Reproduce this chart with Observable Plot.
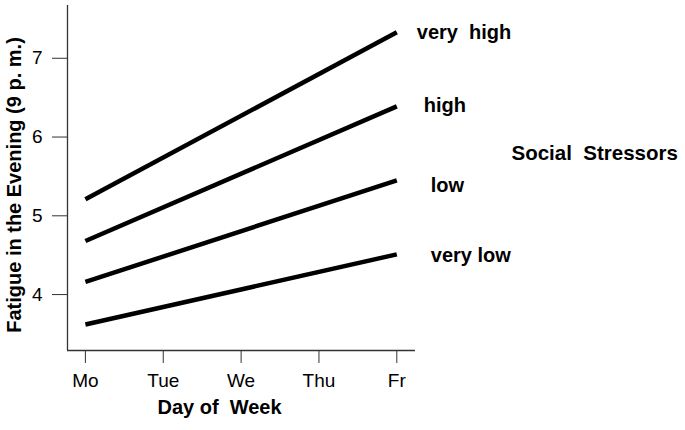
<!DOCTYPE html>
<html>
<head>
<meta charset="utf-8">
<script src="https://cdn.jsdelivr.net/npm/d3@7"></script>
<script src="https://cdn.jsdelivr.net/npm/@observablehq/plot@0.6"></script>
<style>
  body { margin: 0; background: white; }
  .pre text { white-space: pre; }
</style>
</head>
<body>
<div id="chart"></div>
<script>
const days = ["Mo", "Tue", "We", "Thu", "Fr"];
const levels = ["very  high", "high", "low", "very low"];
const moValues = [5.21, 4.68, 4.16, 3.62];
const frValues = [7.33, 6.39, 5.45, 4.51];
const yTicks = [4, 5, 6, 7];
const xTitle = "Day of  Week";
const yTitle = "Fatigue in the Evening (9 p. m.)";
const legendTitle = "Social  Stressors";

const rows = levels.flatMap((level, i) => [
  {level, day: 0, value: moValues[i]},
  {level, day: days.length - 1, value: frValues[i]}
]);

const labelDx = [20, 27, 34, 34];
const labelDy = [0, -1, 5, 1];
const font = "'Liberation Sans', Arial, sans-serif";
const yDomain = [3.29, 7.67];
const xDomain = [-0.23, 4.24];

const chart = Plot.plot({
  width: 685,
  height: 430,
  marginLeft: 67,
  marginRight: 270,
  marginTop: 5,
  marginBottom: 80,
  x: {domain: xDomain},
  y: {domain: yDomain},
  style: {fontFamily: font, fontSize: "18px", color: "black", background: "white"},
  marks: [
    Plot.ruleX([xDomain[0]], {stroke: "#333", strokeWidth: 1.3}),
    Plot.ruleY([yDomain[0]], {stroke: "#333", strokeWidth: 1.3}),
    Plot.axisY({ticks: yTicks, tickFormat: d3.format("d"), tickSize: 15, tickPadding: 10, fontSize: 19, label: null, stroke: "#333"}),
    Plot.axisX({ticks: d3.range(days.length), tickFormat: i => days[i], tickSize: 13, tickPadding: 10, fontSize: 19, label: null, stroke: "#333"}),
    Plot.line(rows, {x: "day", y: "value", z: "level", stroke: "black", strokeWidth: 4.5, strokeLinecap: "butt"}),
    ...levels.map((level, i) => Plot.text([level], {
      x: () => days.length - 1,
      y: () => frValues[i],
      text: d => d,
      dx: labelDx[i],
      dy: labelDy[i],
      textAnchor: "start",
      fontSize: 20,
      fontWeight: "bold",
      className: "pre"
    })),
    Plot.text([legendTitle], {frameAnchor: "right", text: d => d, dx: 96, dy: -25, textAnchor: "start", fontSize: 20.5, fontWeight: "bold", className: "pre"}),
    Plot.text([xTitle], {frameAnchor: "bottom", text: d => d, dx: -22, dy: 63, fontSize: 20, fontWeight: "bold", className: "pre"}),
    Plot.text([yTitle], {frameAnchor: "left", text: d => d, rotate: -90, textAnchor: "middle", dx: -53, dy: 7, fontSize: 20, fontWeight: "bold"})
  ]
});
document.getElementById("chart").appendChild(chart);
</script>
</body>
</html>
